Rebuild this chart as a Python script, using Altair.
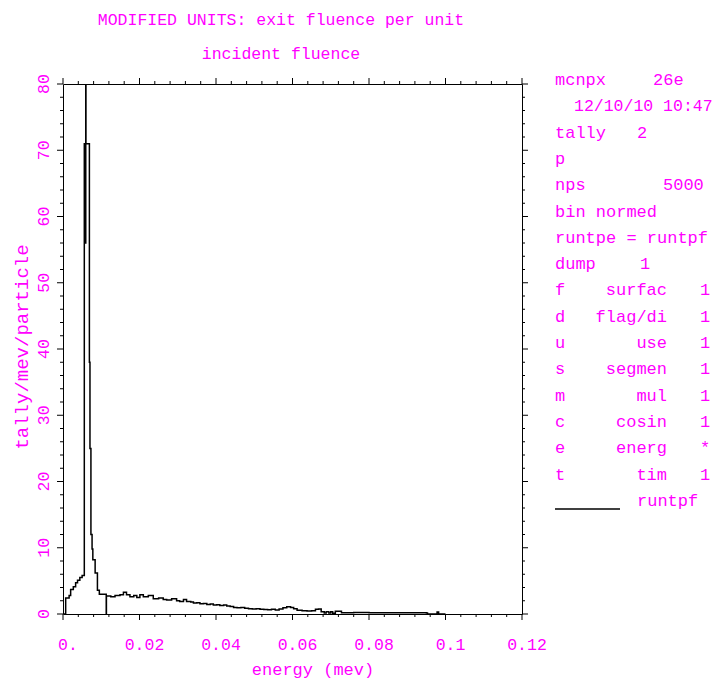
import altair as alt
import pandas as pd

# ---------------- data ----------------
energy = [0.0, 0.0007, 0.0016, 0.0020, 0.0027, 0.0033, 0.0038, 0.0044, 0.0050,
          0.00557, 0.0059, 0.00595, 0.0060, 0.0069, 0.00705, 0.0073, 0.0076,
          0.0078, 0.0084, 0.0090, 0.0095, 0.0113,
          0.01135, 0.0125, 0.0136, 0.0149, 0.0158, 0.0166, 0.0175, 0.0185,
          0.0193, 0.0201, 0.0210, 0.0223, 0.0236, 0.0250, 0.0262, 0.0271,
          0.0284, 0.0297, 0.0305, 0.0315, 0.0323, 0.0334, 0.0341, 0.0350,
          0.0358, 0.0367, 0.0376, 0.0385, 0.0393, 0.0402, 0.0410, 0.0420,
          0.0428, 0.0437, 0.0446, 0.0455, 0.0465, 0.0475, 0.0485, 0.0495,
          0.0505, 0.0515, 0.0525, 0.0535, 0.0545, 0.0555, 0.0565, 0.0575,
          0.0585, 0.0595, 0.0603, 0.0612, 0.0625, 0.0638, 0.0650, 0.0660,
          0.0668, 0.0675, 0.0683, 0.0688, 0.0695, 0.0700, 0.0705, 0.0712,
          0.0728, 0.0760, 0.0800, 0.0850, 0.0900, 0.0950, 0.0953, 0.0978,
          0.0982, 0.1000]
tally = [0.0, 2.4, 2.8, 3.7, 4.1, 4.7, 5.1, 5.5, 5.8,
         71.0, 56.0, 100.0, 71.0, 38.0, 25.0, 12.0, 9.8,
         8.2, 6.2, 3.6, 3.0, 0.0,
         2.7, 2.6, 2.8, 2.9, 3.3, 2.9, 2.6, 2.8,
         2.5, 2.9, 2.6, 2.8, 2.3, 2.4, 2.2, 2.1,
         2.3, 2.0, 1.9, 2.2, 1.9, 1.8, 1.65, 1.7,
         1.55, 1.6, 1.45, 1.5, 1.35, 1.4, 1.3, 1.35,
         1.2, 1.15, 1.0, 0.95, 1.0, 0.85, 0.8, 0.75,
         0.78, 0.7, 0.68, 0.65, 0.7, 0.6, 0.75, 0.95,
         1.1, 1.0, 0.8, 0.55, 0.5, 0.45, 0.5, 0.7,
         0.75, 0.35, 0.15, 0.35, 0.15, 0.35, 0.1, 0.4,
         0.2, 0.22, 0.2, 0.18, 0.2, 0.15, 0.0, 0.3,
         0.0, 0.0]

x_major = [0, 0.02, 0.04, 0.06, 0.08, 0.1, 0.12]
x_labels = ["0.", "0.02", "0.04", "0.06", "0.08", "0.1", "0.12"]
y_major = [0, 10, 20, 30, 40, 50, 60, 70, 80]
y_labels = ["0", "10", "20", "30", "40", "50", "60", "70", "80"]
x_minor = [round(i * 0.004, 4) for i in range(31) if i % 5 != 0]
y_minor = [i * 2 for i in range(41) if i % 5 != 0]

title_lines = ["MODIFIED UNITS: exit fluence per unit", "incident fluence"]
x_title = "energy (mev)"
y_title = "tally/mev/particle"

panel_left = ["mcnpx", "", "tally", "p", "nps", "bin normed", "runtpe = runtpf",
              "dump", "f", "d", "u", "s", "m", "c", "e", "t"]
panel_extra = [(0, "26e", 653), (2, "2", 637),
               (4, "5000", 663), (7, "1", 640), (16, "runtpf", 637)]
panel_date = "12/10/10 10:47"
panel_mid = ["surfac", "flag/di", "use", "segmen", "mul", "cosin", "energ", "tim"]
panel_right = ["1", "1", "1", "1", "1", "1", "*", "1"]

# ---------------- layout ----------------
W, H = 459, 530
X0, Y0 = 63, 84          # page position of the plot area
MAG = "#ff00ff"
FONT = "Liberation Mono"
ROW0, ROWSTEP = 85.0, 26.3

xs = alt.Scale(domain=[0, 0.12], nice=False, zero=False)
ys = alt.Scale(domain=[0, 80], nice=False, zero=False)

df = pd.DataFrame({"energy": energy, "tally": tally})

line = alt.Chart(df).mark_line(
    interpolate="step-after", color="black", strokeWidth=1.5, clip=True
).encode(
    x=alt.X("energy:Q", scale=xs, axis=None),
    y=alt.Y("tally:Q", scale=ys, axis=None),
)


def xticks(vals, length):
    d = pd.DataFrame({"v": vals})
    bottom = alt.Chart(d).mark_rule(color="black", strokeWidth=1).encode(
        x=alt.X("v:Q", scale=xs, axis=None), y=alt.value(H), y2=alt.value(H + length))
    top = alt.Chart(d).mark_rule(color="black", strokeWidth=1).encode(
        x=alt.X("v:Q", scale=xs, axis=None), y=alt.value(0), y2=alt.value(-length))
    return [bottom, top]


def yticks(vals, length):
    d = pd.DataFrame({"v": vals})
    left = alt.Chart(d).mark_rule(color="black", strokeWidth=1).encode(
        y=alt.Y("v:Q", scale=ys, axis=None), x=alt.value(0), x2=alt.value(-length))
    right = alt.Chart(d).mark_rule(color="black", strokeWidth=1).encode(
        y=alt.Y("v:Q", scale=ys, axis=None), x=alt.value(W), x2=alt.value(W + length))
    return [left, right]


def txt(s, px, py, size=17, align="left", angle=0):
    return alt.Chart(alt.Data(values=[{"t": s}])).mark_text(
        font=FONT, fontSize=size, color=MAG, align=align,
        baseline="alphabetic", angle=angle
    ).encode(x=alt.value(px - X0), y=alt.value(py - Y0), text="t:N")


layers = [line]
layers += xticks(x_major, 6) + xticks(x_minor, 3)
layers += yticks(y_major, 6) + yticks(y_minor, 3)

# tick labels (positioned through the scales)
x_lab = alt.Chart(pd.DataFrame({"v": x_major, "lab": x_labels})).mark_text(
    font=FONT, fontSize=16.5, color=MAG, align="center", baseline="alphabetic", dx=5
).encode(x=alt.X("v:Q", scale=xs, axis=None), y=alt.value(H + 36), text="lab:N")
y_lab = alt.Chart(pd.DataFrame({"v": y_major, "lab": y_labels})).mark_text(
    font=FONT, fontSize=16.5, color=MAG, align="center", baseline="alphabetic", angle=270
).encode(y=alt.Y("v:Q", scale=ys, axis=None), x=alt.value(-14), text="lab:N")
layers += [x_lab, y_lab]

# titles
layers.append(txt(title_lines[0], 281, 25, size=16.5, align="center"))
layers.append(txt(title_lines[1], 281, 59, size=16.5, align="center"))
layers.append(txt(x_title, 313, 674.5, size=17, align="center"))
layers.append(txt(y_title, 28, 347, size=19, align="center", angle=270))

# right-hand info panel
for r, s in enumerate(panel_left):
    if s:
        layers.append(txt(s, 555, ROW0 + r * ROWSTEP))
for r, s, px in panel_extra:
    layers.append(txt(s, px, ROW0 + r * ROWSTEP))
layers.append(txt(panel_date, 574, ROW0 + ROWSTEP, size=16.5))
for k, s in enumerate(panel_mid):
    layers.append(txt(s, 667, ROW0 + (8 + k) * ROWSTEP, align="right"))
for k, s in enumerate(panel_right):
    layers.append(txt(s, 700, ROW0 + (8 + k) * ROWSTEP))

legend_line = alt.Chart(alt.Data(values=[{"a": 1}])).mark_rule(
    color="black", strokeWidth=1.5
).encode(x=alt.value(555 - X0), x2=alt.value(620 - X0), y=alt.value(509 - Y0))
layers.append(legend_line)

chart = alt.layer(*layers).properties(
    width=W, height=H,
    padding={"left": 55, "top": 76, "right": 192, "bottom": 64},
    autosize=alt.AutoSizeParams(type="none"),
    background="white",
).configure_view(stroke="black", strokeWidth=1)

chart.save("out.html", embed_options={"renderer": "svg", "actions": False})
